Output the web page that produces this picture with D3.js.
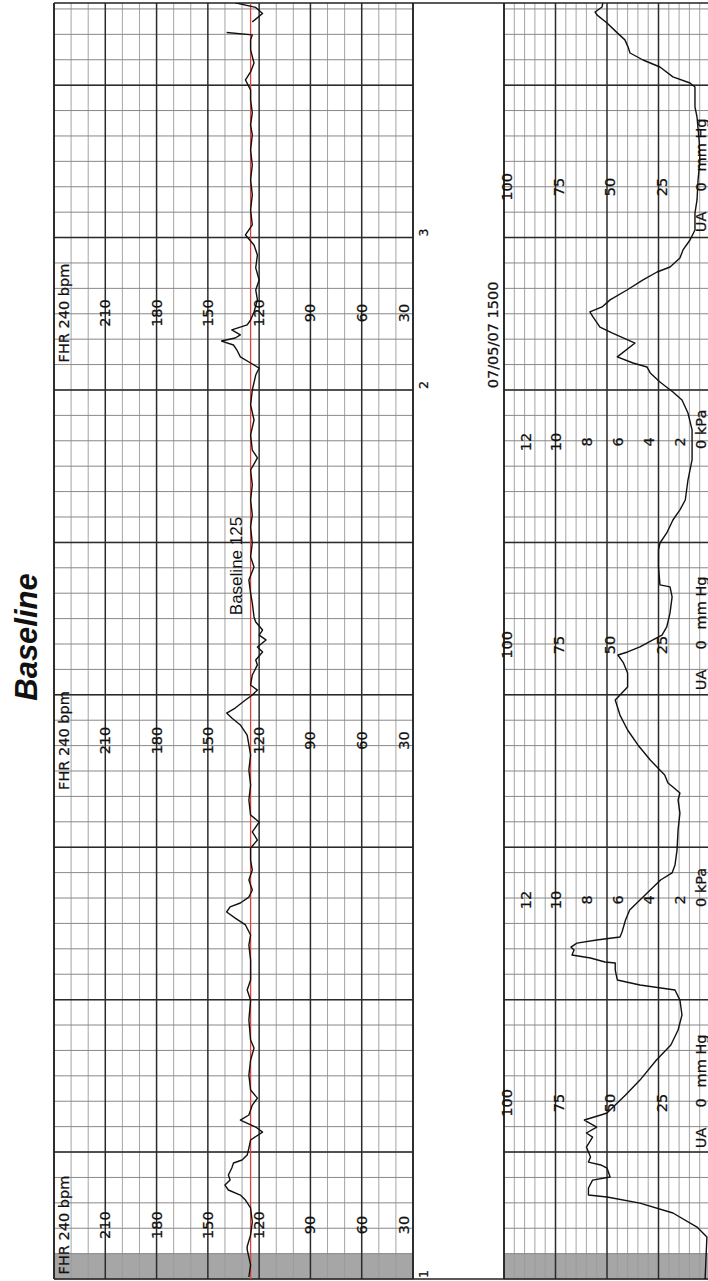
<!DOCTYPE html>
<html><head><meta charset="utf-8">
<script src="https://cdn.jsdelivr.net/npm/d3@7"></script>
<style>body{margin:0;background:#fff} svg{display:block}</style>
</head><body>
<svg id="c" width="708" height="1281"></svg>
<script>
// ---------- data ----------
const titleText = "Baseline";
const baselineBpm = 125;
const baselineLabel = "Baseline 125";
const baselineLabelTime = 3.845;
const fhrTickLabels = [210, 180, 150, 120, 90, 60, 30];
const uaTickLabels = [100, 75, 50, 25];
const kpaTickLabels = [12, 10, 8, 6, 4, 2];
const fhrLabelTimes = [5.505, 2.7, -0.479];   // minutes
const uaLabelTimes = [6.332, 3.327, 0.322];
const kpaLabelTimes = [4.659, 1.654];
const dateLabel = "07/05/07 1500";
const dateLabelTime = 5.361;
const markerLabels = ["1", "2", "3"];
const markerTimes = [-0.833, 5, 6];
const timeDomain = [-0.833, 7.539];   // minutes, bottom -> top
const fhrDomain = [30, 240];
const uaDomain = [0, 100];

// FHR trace [minute, bpm]; null = signal loss
const fhrSamples = [
[-0.82,126],[-0.74,125],[-0.64,127],[-0.62,127],[-0.545,125],[-0.459,124],[-0.367,125],[-0.315,128],
[-0.282,131],[-0.249,138],[-0.217,140],[-0.184,137],[-0.151,138],[-0.105,136],[-0.072,135],[-0.052,130],
[-0.02,127],[0.026,126],[0.079,125],[0.131,118],[0.164,122],[0.21,131],[0.243,126],[0.308,124],
[0.354,121],[0.407,125],[0.505,126],[0.604,125],[0.682,123],[0.735,125],[0.866,126],[0.997,125],
[1.063,127],[1.129,125],[1.26,125],[1.358,126],[1.424,125],[1.49,128],[1.535,134],[1.575,139],
[1.608,137],[1.634,131],[1.673,126],[1.719,124],[1.785,126],[1.85,124],[1.916,125],[1.995,125],
[2.047,121],[2.1,124],[2.165,120],[2.211,125],[2.31,126],[2.408,125],[2.507,126],[2.605,125],
[2.671,126],[2.736,127],[2.802,131],[2.848,136],[2.88,139],[2.913,134],[2.966,128],[2.999,124],
[3.031,121],[3.064,125],[3.13,124],[3.196,121],[3.228,122],[3.281,118],[3.314,121],[3.36,116],
[3.392,120],[3.425,118],[3.478,122],[3.511,123],[3.602,124],[3.668,125],[3.753,126],[3.839,123],
[3.904,125],[3.996,124],[4.101,125],[4.18,124],[4.278,125],[4.377,124],[4.475,125],[4.554,121],
[4.606,124],[4.705,125],[4.803,123],[4.902,125],[5.0,124],[5.098,122],[5.144,120],[5.177,125],
[5.217,131],[5.262,133],[5.295,135],[5.321,142],[5.341,134],[5.361,131],[5.394,136],[5.427,127],
[5.459,125],[5.512,123],[5.591,121],[5.656,122],[5.722,120],[5.801,122],[5.886,121],[5.951,123],
[6.017,128],[6.083,124],[6.181,125],[6.28,124],[6.378,125],[6.476,124],[6.575,125],[6.673,124],
[6.739,125],[6.818,124],[6.903,125],[6.969,125],[7.034,128],[7.087,125],[7.145,123],[7.231,125],
[7.297,125],[7.33,124],[7.345,139],[7.35,null],[7.415,124],[7.47,118],[7.51,122],[7.54,134]
];

// Uterine activity trace [minute, mmHg]
const uaSamples = [
[-0.84,2.4],[-0.558,1.5],[-0.492,6.3],[-0.4,18],[-0.335,34],[-0.295,50],[-0.282,59],[-0.236,59],
[-0.184,57],[-0.164,48.5],[-0.105,50],[-0.085,53],[-0.066,59],[-0.033,58],[0.033,60],[0.098,57],
[0.125,60],[0.164,55],[0.21,61],[0.243,53],[0.256,50],[0.322,45],[0.374,41],[0.472,34],
[0.604,26],[0.702,19],[0.801,15.5],[0.899,13.6],[0.997,14.6],[1.063,17],[1.096,34],[1.129,45],
[1.194,46],[1.24,46],[1.247,51],[1.273,58],[1.293,67],[1.326,66],[1.345,67.5],[1.371,64.6],
[1.391,55],[1.411,43.7],[1.444,42.7],[1.522,41],[1.588,39],[1.654,34],[1.719,29],[1.785,24],
[1.831,18.4],[1.883,17],[1.982,16],[2.113,15.5],[2.224,14.6],[2.31,15.5],[2.356,14.6],[2.395,18],
[2.421,20.4],[2.474,22],[2.572,29],[2.671,35],[2.769,40],[2.867,43.7],[2.966,46],[3.051,40],
[3.143,40],[3.209,42],[3.261,44.7],[3.281,40],[3.314,34],[3.36,27.7],[3.392,23.3],[3.445,21],
[3.537,19.4],[3.642,18.4],[3.708,19.4],[3.721,24.3],[3.839,25],[3.95,25],[3.996,24.3],[4.062,21],
[4.147,18],[4.213,14.6],[4.278,12],[4.409,10.7],[4.541,8.7],[4.639,8.7],[4.738,8.7],[4.849,10.7],
[4.934,13.6],[4.987,18],[5.052,24.3],[5.112,29],[5.151,30.6],[5.177,37.4],[5.217,45],[5.308,36.4],
[5.374,47.6],[5.413,53.4],[5.479,56.8],[5.512,58.3],[5.545,52.4],[5.591,48.5],[5.656,40.3],[5.722,32.5],
[5.774,25.7],[5.807,19.4],[5.866,14.6],[5.919,13.1],[5.984,9.7],[6.05,7.3],[6.161,7.3],[6.247,6.3],
[6.378,5.8],[6.509,4.9],[6.64,5.3],[6.791,6.3],[6.857,7.3],[6.988,7.3],[7.014,9.7],[7.054,18],
[7.119,24.3],[7.165,32.5],[7.211,38.8],[7.251,39.8],[7.297,41.3],[7.343,45],[7.408,50],[7.461,54.9],
[7.48,55.8],[7.513,52.4],[7.54,52]
];

// ---------- layout ----------
const svg = d3.select("#c");
const FONT = "'DejaVu Sans', sans-serif";
const y = d3.scaleLinear().domain(timeDomain).range([1279, 3]);
const xF = d3.scaleLinear().domain(fhrDomain).range([413, 54]);
const xU = d3.scaleLinear().domain(uaDomain).range([710, 504]);
const kpaToMmHg = 7.50062;

const bandTop = -0.6667;
const minorTimes = d3.range(-5, 46).map(k => k / 6);
const majorTimes = d3.range(0, 8);

function vtext(g, x, yy, str, anchor, size) {
  return g.append("text")
    .attr("transform", `translate(${x},${yy}) rotate(-90)`)
    .attr("text-anchor", anchor || "middle")
    .attr("dominant-baseline", "central")
    .attr("font-family", FONT)
    .attr("font-size", size || 14.5)
    .attr("fill", "#111").attr("stroke", "#111").attr("stroke-width", 0.25)
    .text(str);
}

// title
svg.append("text")
  .attr("transform", `translate(26,637) rotate(-90)`)
  .attr("text-anchor", "middle").attr("dominant-baseline", "central")
  .attr("font-family", "'Liberation Sans', Arial, sans-serif")
  .attr("font-weight", "bold").attr("font-style", "italic")
  .attr("font-size", 31).attr("fill", "#111")
  .text(titleText);

function panel(x0, x1, minorVals, majorVals, xs) {
  const g = svg.append("g");
  g.append("rect").attr("x", x0).attr("y", y(bandTop))
    .attr("width", x1 - x0).attr("height", y(timeDomain[0]) - y(bandTop))
    .attr("fill", "#a6a6a6");
  g.selectAll(".mv").data(minorVals).join("line")
    .attr("x1", d => xs(d)).attr("x2", d => xs(d))
    .attr("y1", y(timeDomain[1])).attr("y2", y(timeDomain[0]))
    .attr("stroke", "#9a9a9a").attr("stroke-width", 0.9);
  g.selectAll(".mh").data(minorTimes).join("line")
    .attr("x1", x0).attr("x2", x1)
    .attr("y1", d => y(d)).attr("y2", d => y(d))
    .attr("stroke", "#888").attr("stroke-width", 1);
  g.selectAll(".Mv").data(majorVals).join("line")
    .attr("x1", d => xs(d)).attr("x2", d => xs(d))
    .attr("y1", y(timeDomain[1])).attr("y2", y(timeDomain[0]))
    .attr("stroke", "#2b2b2b").attr("stroke-width", 1.5);
  g.selectAll(".Mh").data(majorTimes).join("line")
    .attr("x1", x0).attr("x2", x1)
    .attr("y1", d => y(d)).attr("y2", d => y(d))
    .attr("stroke", "#2b2b2b").attr("stroke-width", 1.5);
  return g;
}

const fhrMinor = d3.range(30, 241, 10).filter(v => v % 30 !== 0);
const fhrMajor = d3.range(30, 241, 30);
panel(54, 413, fhrMinor, fhrMajor, xF);

const uaMinor = d3.range(0, 101, 5).filter(v => v % 25 !== 0);
const uaMajor = d3.range(0, 101, 25);
panel(504, 708, uaMinor, uaMajor, xU);

// frame
const frame = svg.append("g").attr("stroke", "#222").attr("stroke-width", 1.6);
frame.append("line").attr("x1", 54).attr("x2", 708).attr("y1", y(timeDomain[1])).attr("y2", y(timeDomain[1]));
frame.append("line").attr("x1", 54).attr("x2", 708).attr("y1", y(timeDomain[0])).attr("y2", y(timeDomain[0]));
[54, 413, 504].forEach(xx => frame.append("line").attr("x1", xx).attr("x2", xx)
  .attr("y1", y(timeDomain[1])).attr("y2", y(timeDomain[0])));

// labels
const lab = svg.append("g");
fhrLabelTimes.forEach(t => {
  vtext(lab, 64, y(t), "FHR 240 bpm");
  fhrTickLabels.forEach(v => {
    const xx = v === 30 ? xF(v) - 9 : xF(v);
    vtext(lab, xx, y(t), String(v));
  });
});
uaLabelTimes.forEach(t => {
  uaTickLabels.forEach(v => vtext(lab, xU(v) + 3, y(t), String(v)));
  vtext(lab, 701, y(t) + 35, "UA");
  vtext(lab, 701, y(t), "0");
  vtext(lab, 701, y(t) - 42, "mm Hg");
});
kpaLabelTimes.forEach(t => {
  kpaTickLabels.forEach(v => vtext(lab, xU(v * kpaToMmHg) + 1, y(t), String(v)));
  vtext(lab, 701, y(t) + 7, "0 kPa", "start");
});
vtext(lab, 493, y(dateLabelTime), dateLabel);
markerLabels.forEach((m, i) => vtext(lab, 423, y(markerTimes[i]) - 1, m, "start", 12.5));

// baseline
svg.append("line")
  .attr("x1", xF(baselineBpm)).attr("x2", xF(baselineBpm))
  .attr("y1", y(timeDomain[1])).attr("y2", y(timeDomain[0]))
  .attr("stroke", "#e0403a").attr("stroke-width", 1.3);
svg.append("text")
  .attr("transform", `translate(${xF(baselineBpm) - 14},${y(baselineLabelTime)}) rotate(-90)`)
  .attr("text-anchor", "middle").attr("dominant-baseline", "central")
  .attr("font-family", "'Liberation Sans', Arial, sans-serif")
  .attr("font-size", 17).attr("fill", "#111")
  .text(baselineLabel);

// traces
svg.append("clipPath").attr("id", "cf").append("rect").attr("x", 54).attr("y", 3).attr("width", 359).attr("height", 1276);
svg.append("clipPath").attr("id", "cu").append("rect").attr("x", 504).attr("y", 3).attr("width", 204).attr("height", 1276);

const fhrLine = d3.line().defined(d => d[1] != null).x(d => xF(d[1])).y(d => y(d[0]));
svg.append("path").datum(fhrSamples).attr("d", fhrLine)
  .attr("clip-path", "url(#cf)")
  .attr("fill", "none").attr("stroke", "#111").attr("stroke-width", 1.4).attr("stroke-linejoin", "round");

const uaLine = d3.line().x(d => xU(d[1])).y(d => y(d[0]));
svg.append("path").datum(uaSamples).attr("d", uaLine)
  .attr("clip-path", "url(#cu)")
  .attr("fill", "none").attr("stroke", "#111").attr("stroke-width", 1.4).attr("stroke-linejoin", "round");
</script>
</body></html>
